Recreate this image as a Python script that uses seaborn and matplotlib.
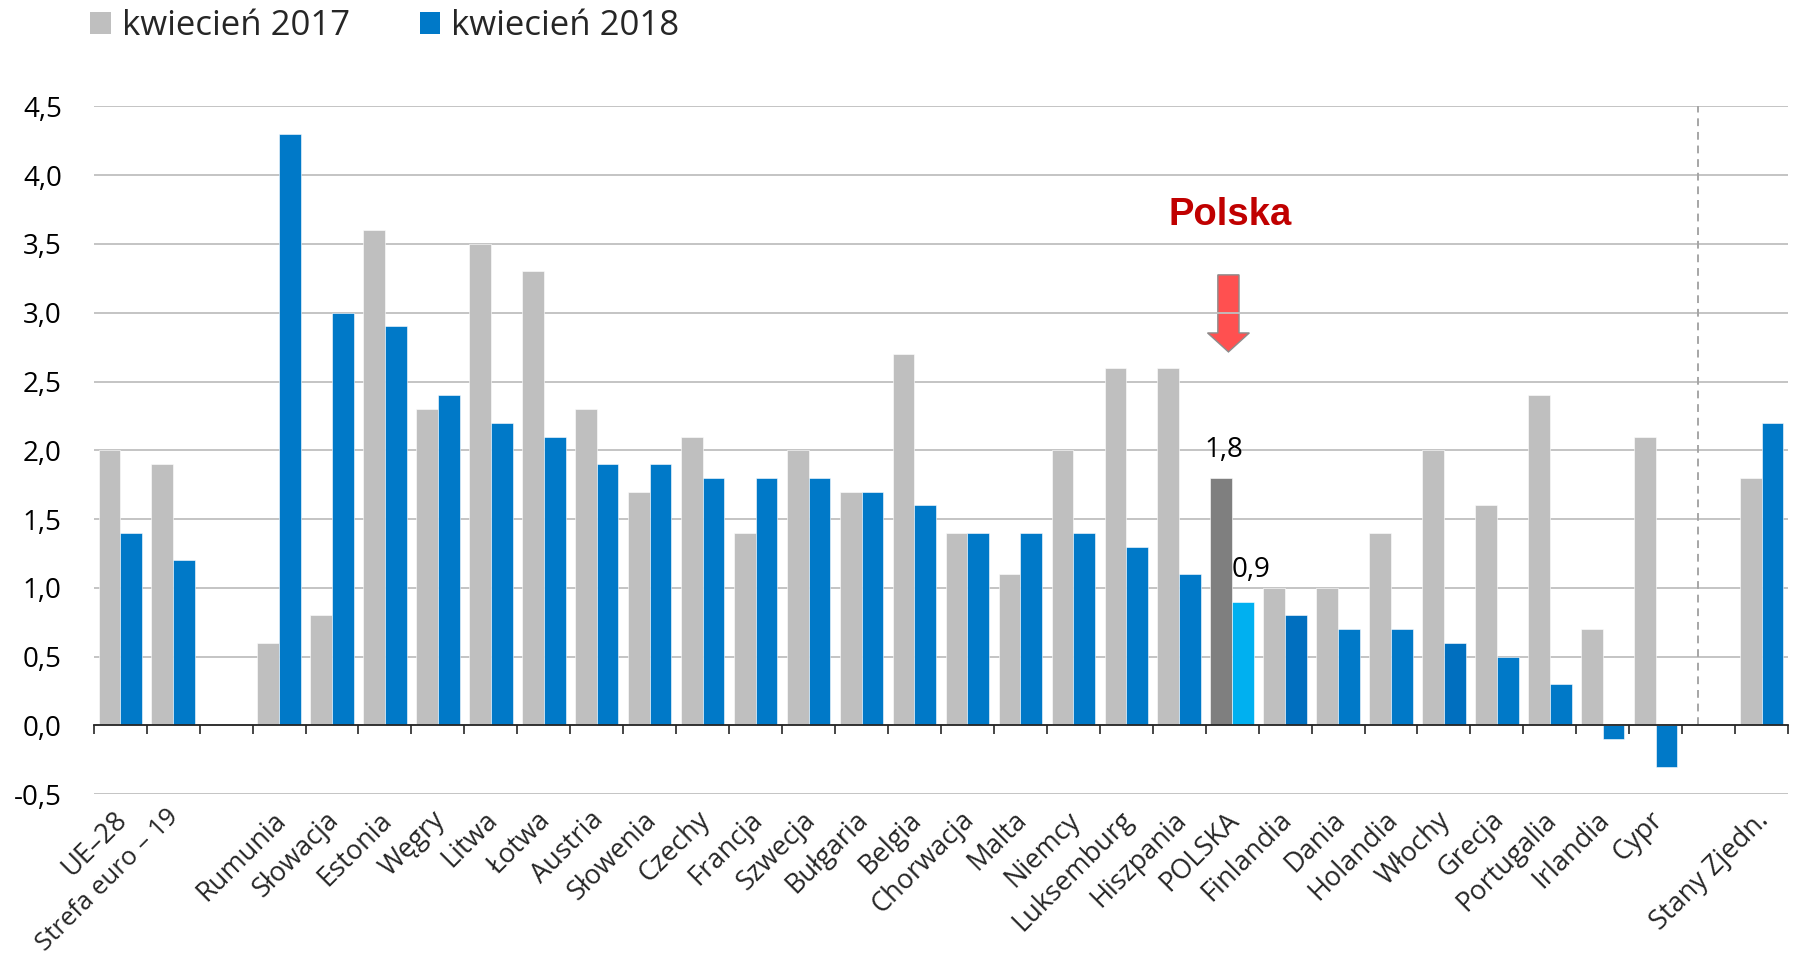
import matplotlib
matplotlib.use("Agg")
import matplotlib.pyplot as plt
import matplotlib.transforms as mtransforms
from matplotlib.patches import FancyArrow, Patch
import numpy as np
import pandas as pd
import seaborn as sns

# ---------------- data ----------------
categories = ["UE–28", "Strefa euro – 19", "", "Rumunia", "Słowacja", "Estonia", "Węgry",
              "Litwa", "Łotwa", "Austria", "Słowenia", "Czechy", "Francja", "Szwecja",
              "Bułgaria", "Belgia", "Chorwacja", "Malta", "Niemcy", "Luksemburg",
              "Hiszpania", "POLSKA", "Finlandia", "Dania", "Holandia", "Włochy", "Grecja",
              "Portugalia", "Irlandia", "Cypr", " ", "Stany Zjedn."]
countries = ["UE–28", "Strefa euro – 19", "Rumunia", "Słowacja", "Estonia", "Węgry",
             "Litwa", "Łotwa", "Austria", "Słowenia", "Czechy", "Francja", "Szwecja",
             "Bułgaria", "Belgia", "Chorwacja", "Malta", "Niemcy", "Luksemburg",
             "Hiszpania", "POLSKA", "Finlandia", "Dania", "Holandia", "Włochy", "Grecja",
             "Portugalia", "Irlandia", "Cypr", "Stany Zjedn."]
apr2017 = [2.0, 1.9, 0.6, 0.8, 3.6, 2.3, 3.5, 3.3, 2.3, 1.7, 2.1, 1.4, 2.0, 1.7, 2.7,
           1.4, 1.1, 2.0, 2.6, 2.6, 1.8, 1.0, 1.0, 1.4, 2.0, 1.6, 2.4, 0.7, 2.1, 1.8]
apr2018 = [1.4, 1.2, 4.3, 3.0, 2.9, 2.4, 2.2, 2.1, 1.9, 1.9, 1.8, 1.8, 1.8, 1.7, 1.6,
           1.4, 1.4, 1.4, 1.3, 1.1, 0.9, 0.8, 0.7, 0.7, 0.6, 0.5, 0.3, -0.1, -0.3, 2.2]
series_names = ["kwiecień 2017", "kwiecień 2018"]
y_ticks = [-0.5, 0.0, 0.5, 1.0, 1.5, 2.0, 2.5, 3.0, 3.5, 4.0, 4.5]

GRAY = "#BFBFBF"
BLUE = "#0079C8"
BLUE_DARK = "#006FBF"
PL_GRAY = "#7F7F7F"
PL_BLUE = "#00B0F0"

df = pd.DataFrame({
    "kraj": countries * 2,
    "okres": [series_names[0]] * len(countries) + [series_names[1]] * len(countries),
    "wartosc": apr2017 + apr2018,
})

# ---------------- figure ----------------
sns.set_theme(style="white")
plt.rcParams["font.family"] = ["Open Sans", "DejaVu Sans"]

fig = plt.figure(figsize=(17.96, 9.63), dpi=100)
ax = fig.add_axes([0.0522, 0.1752, 0.9434, 0.7144])

sns.barplot(data=df, x="kraj", y="wartosc", hue="okres", order=categories,
            hue_order=series_names, palette=[GRAY, BLUE], width=0.82,
            errorbar=None, legend=False, ax=ax, saturation=1)

# recolor special bars
for ci, cont in enumerate(ax.containers):
    for bar in cont:
        idx = int(round(bar.get_x() + bar.get_width() / 2 + (0.205 if ci == 0 else -0.205)))
        name = categories[idx]
        bar.set_edgecolor("white")
        bar.set_linewidth(0.4)
        if name == "POLSKA":
            bar.set_facecolor(PL_GRAY if ci == 0 else PL_BLUE)
        elif ci == 1 and name in ("Finlandia", "Włochy"):
            bar.set_facecolor(BLUE_DARK)

ax.set_xlim(-0.5, len(categories) - 0.5)
ax.set_ylim(-0.5, 4.5)
ax.set_yticks(y_ticks)
ax.set_yticklabels([f"{v:.1f}".replace(".", ",") for v in y_ticks])
ax.tick_params(axis="y", length=0, pad=23, labelsize=20, colors="black")
ax.yaxis.grid(True, color="#BFBFBF", linewidth=1.3)
ax.set_axisbelow(True)
for s in ax.spines.values():
    s.set_visible(False)
ax.set_xlabel("")
ax.set_ylabel("")

# x labels
ax.set_xticks(range(len(categories)))
ax.set_xticklabels(categories, rotation=45, ha="right", va="top",
                   rotation_mode="anchor", fontsize=19.5)
ax.tick_params(axis="x", length=0, pad=8.5)
offset = mtransforms.ScaledTranslation(-7 / 100, 0, fig.dpi_scale_trans)
offset_long = mtransforms.ScaledTranslation(-7 / 100, 2 / 100, fig.dpi_scale_trans)
for lbl in ax.get_xticklabels():
    if lbl.get_text() == "Strefa euro – 19":
        lbl.set_fontsize(18.5)
        lbl.set_transform(lbl.get_transform() + offset_long)
    else:
        lbl.set_transform(lbl.get_transform() + offset)

# zero axis with boundary ticks
sec = ax.secondary_xaxis(0.1)
sec.set_zorder(5)
sec.set_xticks(np.arange(-0.5, len(categories), 1.0))
sec.set_xticklabels([""] * len(np.arange(-0.5, len(categories), 1.0)))
sec.tick_params(axis="x", length=6.5, width=1.2, direction="out", color="#262626")
sec.spines["bottom"].set_color("#262626")
sec.spines["bottom"].set_linewidth(1.3)
for k in ("top", "left", "right"):
    if k in sec.spines:
        sec.spines[k].set_visible(False)

# dashed separator
ax.axvline(29.8, ymin=0.1, ymax=1.0, color="#A6A6A6", linestyle=(0, (4, 3)), linewidth=1.4)

# data labels for Poland
pl = categories.index("POLSKA")
ax.annotate("1,8", xy=(pl - 0.2, apr2017[countries.index("POLSKA")]), xytext=(2, 10),
            textcoords="offset points", ha="center", va="bottom", fontsize=20, color="black")
ax.annotate("0,9", xy=(pl + 0.2, apr2018[countries.index("POLSKA")]), xytext=(6, 13),
            textcoords="offset points", ha="center", va="bottom", fontsize=20, color="black")

# Polska annotation with arrow
ax.text(pl - 0.04, 3.71, "Polska", ha="center", va="center", color="#C00000",
        fontsize=27.5, fontweight="bold", family="Liberation Sans")
arrow = FancyArrow(pl - 0.07, 3.275, 0, -0.56, width=0.40, head_width=0.79,
                   head_length=0.138, length_includes_head=True,
                   facecolor="#FF5050", edgecolor="#8C8C8C", linewidth=1.0, zorder=0.4)
ax.add_patch(arrow)

# legend
handles = [Patch(facecolor=GRAY, edgecolor="none"), Patch(facecolor=BLUE, edgecolor="none")]
fig.legend(handles, series_names, loc="upper left", bbox_to_anchor=(90 / 1796, 1 - 9 / 963),
           ncol=2, frameon=False, fontsize=25, handlelength=0.6, handleheight=0.6,
           handletextpad=0.32, columnspacing=2.0, borderpad=0, borderaxespad=0)

fig.savefig("out.png", dpi=100)
